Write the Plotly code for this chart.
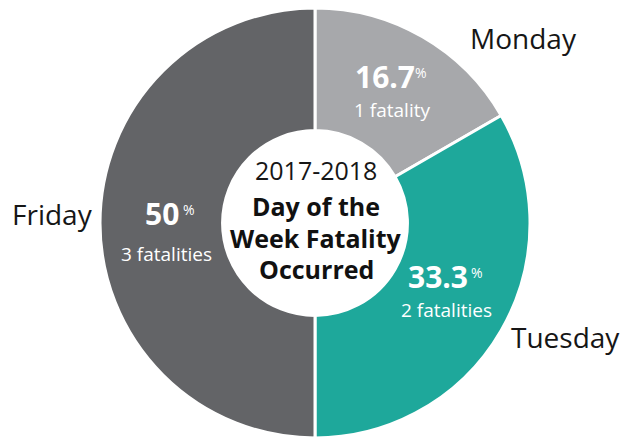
import plotly.graph_objects as go

days = ["Monday", "Tuesday", "Friday"]
fatalities = [1, 2, 3]
pct_labels = ["16.7", "33.3", "50"]
count_labels = ["1 fatality", "2 fatalities", "3 fatalities"]
colors = ["#A7A8AB", "#1EA89B", "#636467"]
center_year = "2017-2018"
center_title = ["Day of the", "Week Fatality", "Occurred"]

W, H = 622, 439
FONT = "Open Sans"

def px(x, y):
    return x / W, 1 - y / H

# pie: center (315, 223), radius 215 (pixels)
cxs, cys, R = 315, 223, 215
x0, y_top = px(cxs - R, cys - R)
x1, y_bot = px(cxs + R, cys + R)

fig = go.Figure(go.Pie(
    labels=days,
    values=fatalities,
    sort=False,
    direction="clockwise",
    rotation=0,
    hole=0.43,
    marker=dict(colors=colors, line=dict(color="white", width=3)),
    textinfo="none",
    hoverinfo="label+value",
    showlegend=False,
    domain=dict(x=[x0, x1], y=[y_bot, y_top]),
))

anns = []

def add(text, x, y, size, color, bold=False):
    ax, ay = px(x, y)
    t = f"<b>{text}</b>" if bold else text
    anns.append(dict(x=ax, y=ay, text=t, showarrow=False, xref="paper", yref="paper",
                     xanchor="center", yanchor="middle",
                     font=dict(family=FONT, size=size, color=color)))

# outside day labels
for name, (x, y) in zip(days, [(523, 38), (565, 337), (52, 214)]):
    add(name, x, y, 28, "#161616")

# in-slice labels
num_pos = [(385, 76), (438, 276), (162, 213)]
pct_pos = [(421, 72), (477, 272), (189, 209)]
cnt_pos = [(392, 110), (446, 310), (166, 254)]
for p, c, npos, ppos, cpos in zip(pct_labels, count_labels, num_pos, pct_pos, cnt_pos):
    add(p, *npos, 30, "white", bold=True)
    add("%", *ppos, 14, "white")
    add(c, *cpos, 19, "white")

# center text
add(center_year, 316, 170, 25, "#161616")
for t, y in zip(center_title, [206, 238, 269]):
    add(t, 316, y, 25, "#111111", bold=True)

fig.update_layout(
    width=W, height=H,
    margin=dict(l=0, r=0, t=0, b=0),
    paper_bgcolor="white",
    plot_bgcolor="white",
    annotations=anns,
)

fig.write_html(
    "out.html",
    config={"displayModeBar": False},
    post_script="document.body.style.margin='0';document.body.style.overflow='hidden';",
)
